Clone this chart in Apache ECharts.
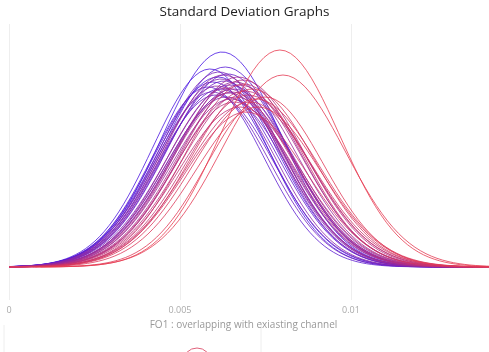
<!DOCTYPE html>
<html>
<head>
<meta charset="utf-8">
<script src="https://cdn.jsdelivr.net/npm/echarts@6/dist/echarts.min.js"></script>
<style>
  html, body { margin: 0; padding: 0; background: #fff; }
  #chart { width: 489px; height: 352px; }
</style>
</head>
<body>
<div id="chart"></div>
<script>
// one entry per channel curve, blue (first) to red (last)
var means = [0.00623, 0.00588, 0.00611, 0.00596, 0.00632, 0.00582, 0.00617, 0.00640, 0.00605, 0.00629,
             0.00594, 0.00646, 0.00614, 0.00635, 0.00620, 0.00655, 0.00608, 0.00643, 0.00626, 0.00661,
             0.00649, 0.00635, 0.00670, 0.00652, 0.00675, 0.00664, 0.00684, 0.00658, 0.00690, 0.00675,
             0.00699, 0.00687, 0.00705, 0.00693, 0.00711, 0.00722, 0.00728, 0.00749, 0.00801, 0.00792];
var sds = [0.00175, 0.00167, 0.00175, 0.00170, 0.00181, 0.00164, 0.00173, 0.00178, 0.00170, 0.00175,
           0.00167, 0.00181, 0.00173, 0.00175, 0.00175, 0.00181, 0.00170, 0.00178, 0.00173, 0.00181,
           0.00175, 0.00173, 0.00181, 0.00178, 0.00181, 0.00175, 0.00181, 0.00175, 0.00184, 0.00178,
           0.00181, 0.00175, 0.00184, 0.00178, 0.00181, 0.00184, 0.00181, 0.00170, 0.00181, 0.00175];
var peaks = [215, 198, 190, 185, 200, 180, 178, 193, 172, 186,
             175, 182, 195, 170, 188, 178, 181, 174, 192, 185,
             168, 179, 190, 175, 182, 170, 187, 165, 176, 160,
             172, 183, 165, 155, 178, 168, 160, 170, 192, 217];
var xTicks = [0, 0.005, 0.01];

var chart = echarts.init(document.getElementById("chart"));

function curve(m, s, h) {
    var pts = [], lo = Math.max(0, m - 4 * s), hi = m + 4 * s, n = 90;
    for (var k = 0; k <= n; k++) {
        var x = lo + (hi - lo) * k / n;
        pts.push([x, h * Math.exp(-(x - m) * (x - m) / (2 * s * s))]);
    }
    return pts;
}

function colorAt(t) {
    var a = [72, 22, 228], b = [232, 60, 80];
    return "rgb(" + a.map(function(v, i) { return Math.round(v + (b[i] - v) * t); }).join(",") + ")";
}

var series = [];
for (var i = 0; i < means.length; i++) {
    series.push({
        type: "line",
        data: curve(means[i], sds[i], peaks[i]),
        showSymbol: false,
        silent: true,
        lineStyle: { width: 1, color: colorAt(i / (means.length - 1)), opacity: 0.8 },
        z: 2
    });
}

chart.setOption({
    animation: false,
    title: {
        text: "Standard Deviation Graphs",
        left: "center",
        top: 0,
        textStyle: { fontFamily: "Open Sans", fontSize: 13.5, fontWeight: "normal", color: "#222" }
    },
    // the plot runs past the right edge of the window, so 0.015 falls off screen
    grid: { left: 9, top: 24, width: 513, height: 276, outerBoundsMode: "none", containLabel: false },
    xAxis: {
        type: "value",
        min: xTicks[0],
        max: 0.015,
        interval: xTicks[1] - xTicks[0],
        name: "FO1 : overlapping with exiasting channel",
        nameLocation: "middle",
        nameGap: 17,
        nameTextStyle: { fontFamily: "Open Sans", fontSize: 10, color: "#999", padding: [0, 44, 0, 0] },
        axisLine: { show: false },
        axisTick: { show: false },
        axisLabel: { fontFamily: "Open Sans", fontSize: 9, color: "#aaa", margin: 6 },
        splitLine: { show: true, lineStyle: { color: "#eee", width: 1 } }
    },
    yAxis: {
        type: "value",
        min: -33,
        max: 243,
        show: false,
        splitLine: { show: false }
    },
    graphic: [
        { type: "line", shape: { x1: 4, y1: 325, x2: 4, y2: 352 }, style: { stroke: "#eee", lineWidth: 1 } },
        { type: "line", shape: { x1: 261, y1: 325, x2: 261, y2: 352 }, style: { stroke: "#eee", lineWidth: 1 } },
        { type: "circle", shape: { cx: 197, cy: 362, r: 14 }, style: { fill: "none", stroke: "#e0607a", lineWidth: 1 } }
    ],
    series: series
});
</script>
</body>
</html>
